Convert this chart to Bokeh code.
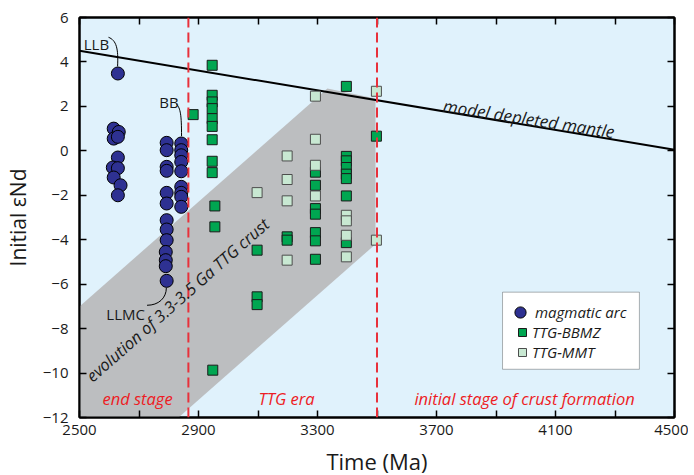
from bokeh.plotting import figure
from bokeh.models import (Range1d, FixedTicker, LinearAxis, Span, Label, Legend,
                          LegendItem, BoxAnnotation)
from bokeh.embed import file_html
from bokeh.resources import INLINE

FONT = "Open Sans"

# ---------------- data ----------------
arc_x = [2629,
         2615, 2632, 2615, 2629, 2629, 2612, 2629, 2615, 2638, 2629,
         2793, 2793, 2793, 2793, 2793, 2793, 2793, 2793, 2793, 2790, 2790, 2790, 2793,
         2842, 2842, 2842, 2842, 2842, 2842, 2842, 2842, 2842]
arc_y = [3.48,
         1.0, 0.85, 0.55, 0.63, -0.30, -0.75, -0.78, -1.2, -1.55, -2.0,
         0.36, 0.03, -0.72, -0.9, -1.89, -2.37, -3.12, -3.54, -4.02, -4.55, -4.92, -5.19, -5.85,
         0.33, 0.03, -0.2, -0.5, -0.92, -1.62, -1.89, -2.07, -2.52]

bbmz_x = [2882, 2946,
          2946, 2946, 2946, 2946, 2946, 2946, 2946, 2946,
          2955, 2955, 2948,
          3097, 3097, 3097,
          3198, 3198,
          3293, 3293, 3293, 3293, 3293, 3293, 3293,
          3397, 3397, 3397, 3397, 3397, 3397, 3397, 3397,
          3498]
bbmz_y = [1.63, 3.85,
          2.5, 2.2, 1.9, 1.45, 1.1, 0.5, -0.47, -0.98,
          -2.48, -3.42, -9.87,
          -4.47, -6.57, -6.92,
          -3.87, -4.02,
          -0.96, -1.55, -2.6, -2.85, -3.68, -4.05, -4.88,
          2.9, -0.25, -0.45, -0.75, -1.05, -1.25, -2.03, -4.13,
          0.66]

mmt_x = [3097,
         3198, 3198, 3198, 3198,
         3293, 3293, 3293, 3293,
         3397, 3397, 3397, 3397,
         3498, 3498]
mmt_y = [-1.88,
         -0.23, -1.29, -2.25, -4.92,
         2.46, 0.52, -0.65, -2.03,
         -2.9, -3.15, -3.8, -4.77,
         2.68, -4.02]

mantle_x = [2500, 4500]
mantle_y = [4.5, 0.05]

band_x = [2500, 3333, 3495, 3495, 2833, 2500]
band_y = [-7.0, 2.8, 2.35, -4.2, -12.0, -12.0]

stage_bounds = [2866, 3500]

x_major = [2500, 2900, 3300, 3700, 4100, 4500]
x_minor = [2700, 3100, 3500, 3900, 4300]
y_major = [-12, -10, -8, -6, -4, -2, 0, 2, 4, 6]

# ---------------- main figure ----------------
p = figure(frame_width=595, frame_height=400, output_backend="svg", toolbar_location=None,
           x_range=Range1d(2500, 4500), y_range=Range1d(-12, 6),
           min_border_left=79, min_border_right=14, min_border_top=17,
           min_border_bottom=51)
p.background_fill_color = "#e0f2fc"
p.border_fill_color = "white"
p.outline_line_color = "black"
p.outline_line_width = 2
p.grid.visible = False

def style_axis(ax, ticks, minor, labels=True):
    ax.ticker = FixedTicker(ticks=ticks, minor_ticks=minor)
    ax.axis_line_color = "black"
    ax.axis_line_width = 2
    ax.major_tick_in = 7
    ax.major_tick_out = 0
    ax.minor_tick_in = 7 if minor else 0
    ax.minor_tick_out = 0
    ax.major_tick_line_width = 1.5
    ax.minor_tick_line_width = 1.5
    ax.major_tick_line_color = "black"
    ax.minor_tick_line_color = "black"
    ax.major_label_text_font = FONT
    ax.major_label_text_font_size = "15px"
    ax.major_label_text_color = "#1a1a1a"
    if not labels:
        ax.major_label_overrides = {t: "" for t in ticks}
        ax.major_label_standoff = 0

style_axis(p.xaxis[0], x_major, x_minor)
style_axis(p.yaxis[0], y_major, [])
p.xaxis[0].major_label_standoff = 7
p.yaxis[0].major_label_standoff = 11
p.xaxis[0].axis_label = "Time (Ma)"
p.xaxis[0].axis_label_text_font = FONT
p.xaxis[0].axis_label_text_font_size = "22px"
p.xaxis[0].axis_label_text_font_style = "normal"
p.xaxis[0].axis_label_text_color = "#1a1a1a"
p.xaxis[0].axis_label_standoff = 8

p.yaxis[0].axis_label = "Initial \u03b5Nd"
p.yaxis[0].axis_label_text_font = FONT
p.yaxis[0].axis_label_text_font_size = "21px"
p.yaxis[0].axis_label_text_font_style = "normal"
p.yaxis[0].axis_label_text_color = "#1a1a1a"
p.yaxis[0].axis_label_standoff = 8

rax = LinearAxis()
style_axis(rax, y_major, [], labels=False)
p.add_layout(rax, "right")
tax = LinearAxis()
style_axis(tax, x_major, x_minor, labels=False)
p.add_layout(tax, "above")

# band
p.patch(band_x, band_y, fill_color="#bcbec0", line_color=None)

# model depleted mantle
p.line(mantle_x, mantle_y, line_color="black", line_width=2)

# leaders
p.bezier(x0=[2597.5, 2826, 2727], y0=[5.11, 2.10, -6.95],
         x1=[2628, 2843, 2792], y1=[3.80, 0.66, -6.16],
         cx0=[2624, 2839.5, 2765.5], cy0=[4.97, 1.92, -6.95],
         cx1=[2631, 2843, 2792], cy1=[4.61, 1.60, -6.63],
         line_color="black", line_width=1)

# points
arc_r = p.scatter(arc_x, arc_y, marker="circle", size=13, fill_color="#2e3192",
                  line_color="black", line_width=1)
bbmz_r = p.scatter(bbmz_x, bbmz_y, marker="square", size=10, fill_color="#00a651",
                   line_color="#1a1a1a", line_width=1)
mmt_r = p.scatter(mmt_x, mmt_y, marker="square", size=10, fill_color="#c8e8d2",
                  line_color="#4d4d4d", line_width=1)

# stage boundaries
for b in stage_bounds:
    p.add_layout(Span(location=b, dimension="height", line_color="#e8313b",
                      line_dash="10 5", line_width=2))

# texts
def lab(x, y, text, size, style="normal", color="#1a1a1a", angle=0.0,
        align="left", baseline="alphabetic"):
    p.add_layout(Label(x=x, y=y, text=text, text_font=FONT, text_font_size=size,
                       text_font_style=style, text_color=color, angle=angle,
                       text_align=align, text_baseline=baseline))

lab(3723, 2.05, "model depleted mantle", "17px", "italic", angle=-0.155)
lab(2530, -10.23, "evolution of 3.3-3.5 Ga TTG crust", "16.5px", "italic", angle=0.7226)
lab(2557, 4.83, "LLB", "15px", align="center")
lab(2801, 2.19, "BB", "15px", align="center")
lab(2655, -7.32, "LLMC", "15px", align="center")
lab(2695, -11.15, "end stage", "16.5px", "italic", color="#ed1c24", align="center")
lab(3196, -11.15, "TTG era", "16.5px", "italic", color="#ed1c24", align="center")
lab(3996, -11.15, "initial stage of crust formation", "16.5px", "italic", color="#ed1c24", align="center")

# legend box + legends
p.add_layout(BoxAnnotation(left=3922, right=4382, top=-6.36, bottom=-9.83,
                           fill_color="white", fill_alpha=1.0,
                           line_color="black", line_width=1))
legA = Legend(items=[LegendItem(label="magmatic arc", renderers=[arc_r])],
              location=(426, 91), glyph_width=30, glyph_height=28, padding=0, margin=0,
              spacing=0, border_line_color=None, background_fill_alpha=0,
              label_standoff=0, label_text_font=FONT, label_text_font_style="italic",
              label_text_font_size="15px", label_text_color="#1a1a1a")
legB = Legend(items=[LegendItem(label="TTG-BBMZ", renderers=[bbmz_r]),
                     LegendItem(label="TTG-MMT", renderers=[mmt_r])],
              location=(433, 55), glyph_width=20, glyph_height=20, padding=0, margin=0,
              spacing=0, border_line_color=None, background_fill_alpha=0,
              label_standoff=0, label_text_font=FONT, label_text_font_style="italic",
              label_text_font_size="15px", label_text_color="#1a1a1a")
p.add_layout(legA, "center")
p.add_layout(legB, "center")

open("out.html", "w").write(file_html(p, INLINE))
